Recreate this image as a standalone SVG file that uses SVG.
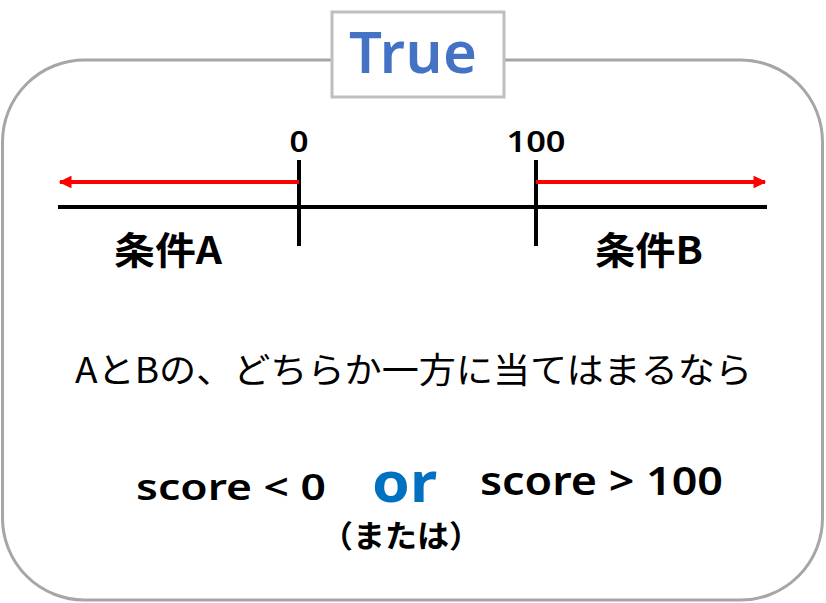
<svg xmlns="http://www.w3.org/2000/svg" width="826" height="603" viewBox="0 0 826 603">
<style>
.lat{font-family:"Noto Sans","Noto Sans CJK JP",sans-serif;font-weight:600;fill:#000}
.jp{font-family:"Noto Sans CJK JP",sans-serif;fill:#000}
.axis{stroke:#000;stroke-width:4;fill:none}
.red{stroke:#FF0000;stroke-width:4;fill:none}
</style>
<defs>
<marker id="ah" viewBox="0 0 10 10" refX="9" refY="5" markerWidth="4" markerHeight="3.2" orient="auto" markerUnits="strokeWidth">
<path d="M0,0 L10,5 L0,10 Z" fill="#FF0000"/>
</marker>
</defs>
<rect width="826" height="603" fill="#fff"/>
<g id="frame">
<rect x="2.5" y="60" width="820" height="540" rx="82" ry="82" fill="#fff" stroke="#A6A6A6" stroke-width="3"/>
</g>
<g id="title">
<rect x="332" y="12" width="172" height="85" fill="#fff" stroke="#BFBFBF" stroke-width="3"/>
<text x="413" y="73" text-anchor="middle" font-family="Noto Sans, sans-serif" font-weight="600" font-size="58" fill="#4472C4" textLength="128" lengthAdjust="spacing">True</text>
</g>
<g id="numberline">
<line class="axis" x1="58" y1="207" x2="767" y2="207"/>
<line class="axis" x1="299" y1="160" x2="299" y2="246" stroke-width="4.5"/>
<line class="axis" x1="536" y1="160" x2="536" y2="246" stroke-width="4.5"/>
<text class="lat" x="299" y="152" text-anchor="middle" font-size="29" textLength="19" lengthAdjust="spacingAndGlyphs">0</text>
<text class="lat" x="536" y="152" text-anchor="middle" font-size="29" textLength="59" lengthAdjust="spacingAndGlyphs">100</text>
</g>
<g id="connectors">
<line class="red" x1="299" y1="182" x2="60" y2="182" marker-end="url(#ah)"/>
<line class="red" x1="536" y1="182" x2="765" y2="182" marker-end="url(#ah)"/>
</g>
<g id="labelA">
<text class="jp" x="114" y="264" font-size="38" font-weight="700" textLength="108" lengthAdjust="spacingAndGlyphs">条件A</text>
</g>
<g id="labelB">
<text class="jp" x="595" y="264" font-size="38" font-weight="700" textLength="108" lengthAdjust="spacingAndGlyphs">条件B</text>
</g>
<g id="sentence">
<text class="jp" x="75" y="383" font-size="35" font-weight="400" textLength="677" lengthAdjust="spacingAndGlyphs">AとBの、どちらか一方に当てはまるなら</text>
</g>
<g id="condition">
<text class="lat" x="136" y="500" font-size="36" textLength="190" lengthAdjust="spacingAndGlyphs">score &lt; 0</text>
<text x="372" y="502" font-family="Noto Sans, sans-serif" font-weight="700" font-size="55" fill="#0070C0" textLength="65" lengthAdjust="spacingAndGlyphs">or</text>
<text class="lat" x="480" y="495" font-size="39" textLength="243" lengthAdjust="spacingAndGlyphs">score &gt; 100</text>
<text class="jp" x="321" y="547" font-size="31" font-weight="700" textLength="160" lengthAdjust="spacingAndGlyphs">（または）</text>
</g>
</svg>
